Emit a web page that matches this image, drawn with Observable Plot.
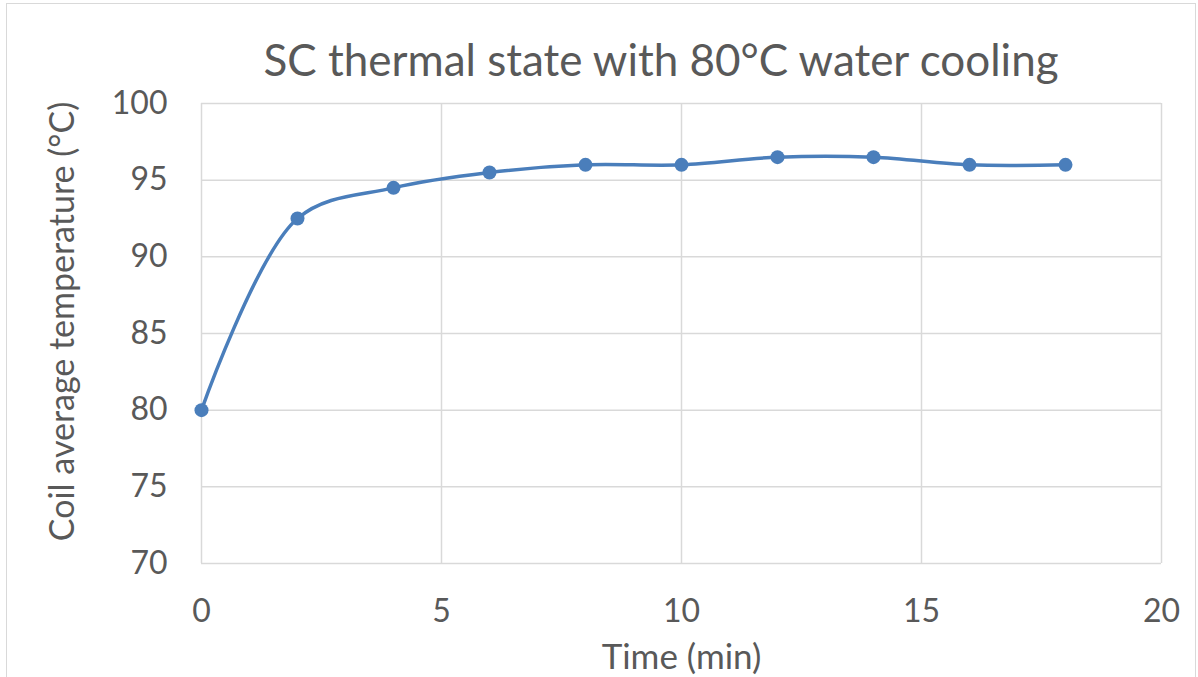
<!DOCTYPE html>
<html>
<head>
<meta charset="utf-8">
<script src="https://cdn.jsdelivr.net/npm/d3@7"></script>
<script src="https://cdn.jsdelivr.net/npm/@observablehq/plot@0.6"></script>
<style>
  html, body { margin: 0; padding: 0; background: #fff; }
  #wrap { position: relative; width: 1198px; height: 677px; overflow: hidden; font-family: Lato, "Open Sans", sans-serif; }
  #frame { position: absolute; left: 6px; top: 3px; width: 1190px; height: 680px; border: 1.5px solid #d9d9d9; box-sizing: border-box; pointer-events: none; }
  #title { position: absolute; left: 0; top: 0; width: 1198px; height: 60px; text-align: center; color: #595959; font-size: 44px; line-height: 1; padding-top: 37px; box-sizing: border-box; padding-left: 124px; white-space: nowrap; }
  #chart { position: absolute; left: 0; top: 60px; }
</style>
</head>
<body>
<div id="wrap">
  <div id="title">SC thermal state with 80°C water cooling</div>
  <div id="chart"></div>
  <div id="frame"></div>
</div>
<script>
const time = [0, 2, 4, 6, 8, 10, 12, 14, 16, 18];
const temperature = [80, 92.5, 94.5, 95.5, 96, 96, 96.5, 96.5, 96, 96];
const xTicks = [0, 5, 10, 15, 20];
const yTicks = [70, 75, 80, 85, 90, 95, 100];
const xLabel = "Time (min)";
const yLabel = "Coil average temperature (°C)";

const data = time.map((t, i) => ({time: t, temp: temperature[i]}));
const lineColor = "#4a7ebb";
const grid = "#d9d9d9";

const chart = Plot.plot({
  width: 1198,
  height: 617,
  marginTop: 43,
  marginBottom: 114,
  marginLeft: 201,
  marginRight: 37,
  style: {fontFamily: "Lato, 'Open Sans', sans-serif", color: "#595959", background: "transparent", overflow: "visible"},
  x: {domain: [0, 20], ticks: xTicks},
  y: {domain: [70, 100], ticks: yTicks},
  marks: [
    Plot.ruleX(xTicks, {stroke: grid, strokeWidth: 1.5}),
    Plot.ruleY(yTicks, {stroke: grid, strokeWidth: 1.5}),
    Plot.axisX({ticks: xTicks, tickSize: 0, tickPadding: 36, fontSize: 32, label: null}),
    Plot.axisY({ticks: yTicks, tickSize: 0, tickPadding: 34, fontSize: 32, label: null}),
    Plot.text([xLabel], {text: d => d, frameAnchor: "bottom", textAnchor: "middle", lineAnchor: "middle", dy: 94, fontSize: 35, fill: "#595959"}),
    Plot.text([yLabel], {text: d => d, frameAnchor: "left", textAnchor: "middle", lineAnchor: "middle", dx: -138, dy: -12, rotate: -90, fontSize: 34, fill: "#595959"}),
    Plot.line(data, {x: "time", y: "temp", stroke: lineColor, strokeWidth: 3.5, curve: "catmull-rom"}),
    Plot.dot(data, {x: "time", y: "temp", fill: lineColor, r: 7})
  ]
});
document.getElementById("chart").appendChild(chart);
</script>
</body>
</html>
